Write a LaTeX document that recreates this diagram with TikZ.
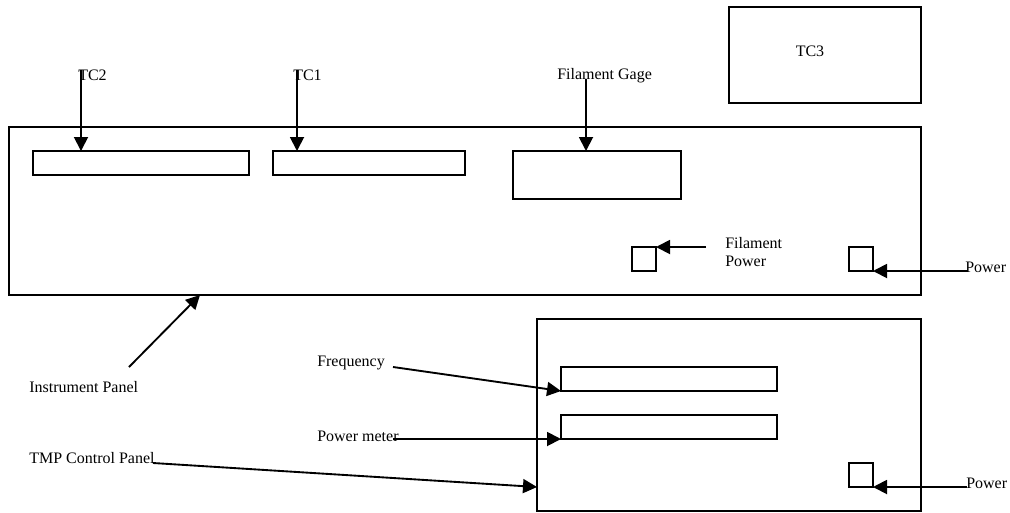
\documentclass[tikz,border=0pt]{standalone}
\usepackage{fontspec}
\setmainfont{Liberation Serif}
\usetikzlibrary{arrows.meta,calc,positioning}

\begin{document}
\begin{tikzpicture}[x=0.75pt,y=-0.75pt,>={Triangle[length=10.5pt,width=10.5pt]},
  panelbox/.style={draw,line width=1.4pt,inner sep=0pt,outer sep=0pt},
  lbl/.style={anchor=west,inner sep=0pt,font=\fontsize{12}{14}\selectfont},
  arr/.style={->,line width=1.4pt}]
  \useasboundingbox (0,0) rectangle (1010,512);
  % instrument panel
  \node[panelbox,minimum width=684pt,minimum height=126pt] (ip) at (465,211) {};
  \node[panelbox,minimum width=162pt,minimum height=18pt] (tc2disp) at (141,163) {};
  \node[panelbox,minimum width=144pt,minimum height=18pt] (tc1disp) at (369,163) {};
  \node[panelbox,minimum width=126pt,minimum height=36pt] (gagedisp) at (597,175) {};
  \node[panelbox,minimum size=18pt] (fpsq) at (644,259) {};
  \node[panelbox,minimum size=18pt] (ippwr) at (861,259) {};
  \node[panelbox,minimum width=144pt,minimum height=72pt] (tc3) at (825,55) {};
  \node[lbl,anchor=center] (tc3lbl) at (810,51) {TC3};
  % TMP control panel
  \node[panelbox,minimum width=288pt,minimum height=144pt] (tmp) at (729,415) {};
  \node[panelbox,minimum width=162pt,minimum height=18pt] (freqdisp) at (669,379) {};
  \node[panelbox,minimum width=162pt,minimum height=18pt] (pmdisp) at (669,427) {};
  \node[panelbox,minimum size=18pt] (tmppwr) at (861,475) {};

  \node[lbl] (tc2) at (78,75) {TC2};
  \node[lbl] (tc1) at (293,75) {TC1};
  \node[lbl] (gage) at (557,76) {Filament Gage};
  \node[lbl,align=left] (fpwr) at (725,252) {Filament\\Power};
  \node[lbl] (ippwrlbl) at (965,267) {Power};
  \node[lbl] (iplbl) at (29,387) {Instrument Panel};
  \node[lbl] (freq) at (317,363) {Frequency};
  \node[lbl] (pmeter) at (317,436) {Power meter};
  \node[lbl] (tmplbl) at (29,458) {TMP Control Panel};
  \node[lbl] (tmppwrlbl) at (966,483) {Power};

  \coordinate (tc2in) at (81,70);
  \coordinate (tc1in) at (297,70);
  \coordinate (gagein) at (586,79);
  \coordinate (fpin) at (706,247);
  \coordinate (ippwrin) at (968,271);
  \coordinate (ipin) at (129,367);
  \coordinate (ipat) at (200,295);
  \coordinate (freqin) at (393,367);
  \coordinate (pmin) at (393,439);
  \coordinate (tmpin) at (153,463);
  \coordinate (tmpat) at (537,487);
  \coordinate (tmppwrin) at (967,487);

  \draw[arr] (tc2in) -- (tc2in |- tc2disp.north);
  \draw[arr] (tc1in) -- (tc1in |- tc1disp.north);
  \draw[arr] (gagein) -- (gagein |- gagedisp.north);
  \draw[arr] (fpin) -- (fpsq.north east);
  \draw[arr] (ippwrin) -- (ippwr.south east);
  \draw[arr] (ipin) -- (ipat);
  \draw[arr] (freqin) -- (freqdisp.south west);
  \draw[arr] (pmin) -- (pmdisp.south west);
  \draw[arr] (tmpin) -- (tmpat);
  \draw[arr] (tmppwrin) -- (tmppwr.south east);
\end{tikzpicture}
\end{document}
